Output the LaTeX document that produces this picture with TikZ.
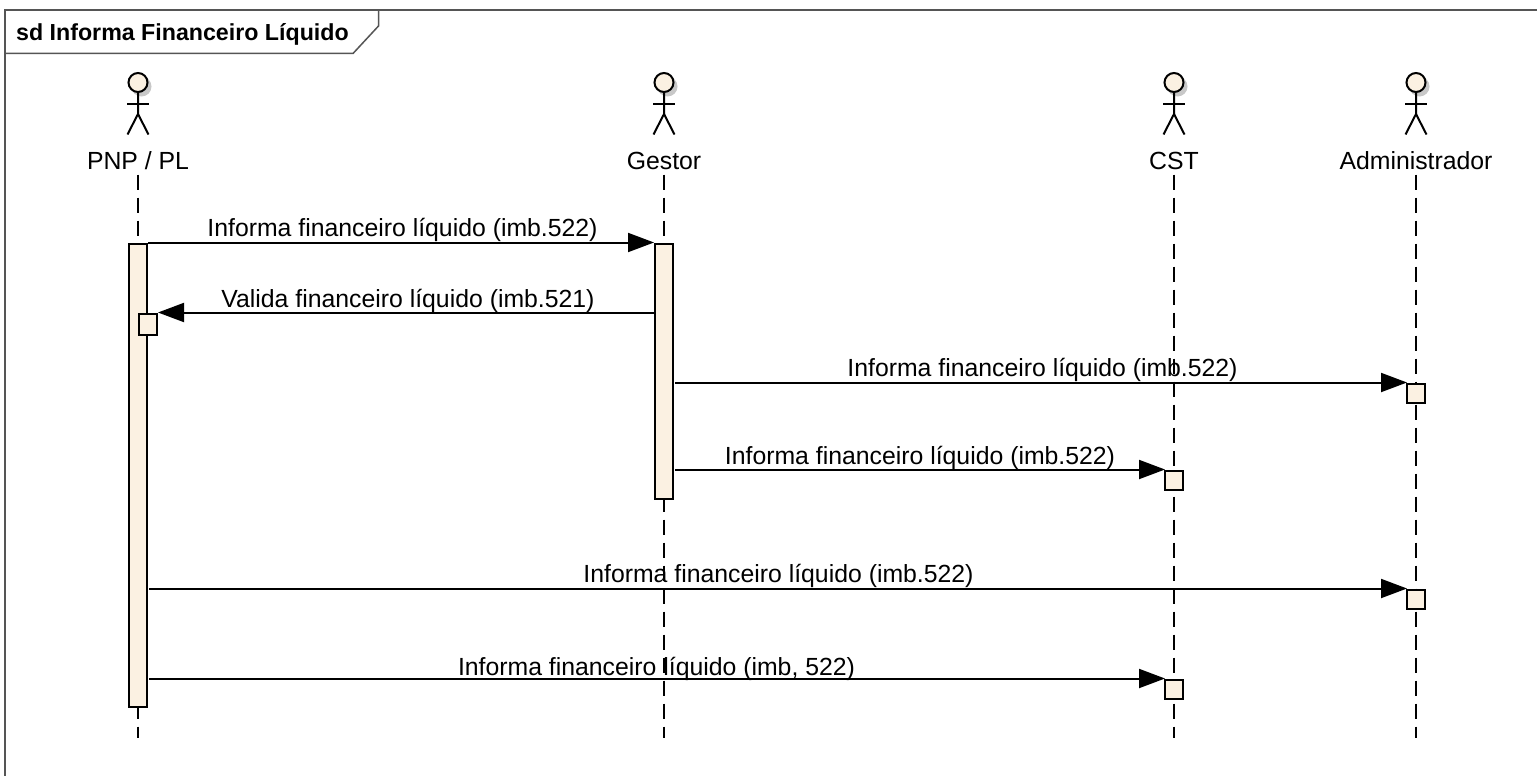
\documentclass[tikz,border=0pt]{standalone}
\usepackage{fontspec}
\setmainfont{Liberation Sans}
\usetikzlibrary{arrows.meta}
\definecolor{bb}{RGB}{251, 241, 226}
\definecolor{ff}{RGB}{85, 85, 85}
\definecolor{ss}{RGB}{200, 200, 200}
\tikzset{
  bar/.style={rectangle, minimum width=18pt, inner sep=0pt, fill=bb, draw=black, line width=2pt},
  box/.style={rectangle, minimum width=18pt, minimum height=19pt, inner sep=0pt, fill=bb, draw=black, line width=2pt},
  msg/.style={line width=2pt, -{Triangle[length=26pt, width=19pt]}},
  lifeline/.style={line width=2pt, dash pattern=on 15pt off 8pt},
  lbl/.style={inner sep=0pt, font=\fontsize{24.8}{28}\selectfont},
  actorlbl/.style={inner sep=0pt, text height=18pt, text depth=5pt, font=\fontsize{24.8}{28}\selectfont},
}
\begin{document}
\begin{tikzpicture}[x=1pt, y=1pt]
\useasboundingbox (0,0) rectangle (1537,-776);
\path [fill=white] (0,0) rectangle (1537,-776);
% frame
\draw [line width=1.5pt, color=ff] (5,-776) -- (5,-10) -- (1537,-10);
\draw [line width=1.5pt, color=ff] (5,-53.5) -- (353,-53.5) -- (378.5,-26) -- (378.5,-10);
\node (title) [inner sep=0pt, anchor=west, font=\bfseries\fontsize{23.2}{28}\selectfont] at (16,-34) {sd Informa Financeiro Líquido};
% actors
\foreach \name/\x/\txt in {pnp/138/{PNP / PL}, gestor/664/Gestor, cst/1174/CST, adm/1416/Administrador} {
  \fill [color=ss] (\x+3.5,-86.5) circle (10);
  \node (head\name) [circle, minimum size=19pt, inner sep=0pt, fill=bb, draw=black, line width=2pt] at (\x,-82.5) {};
  \draw [line width=2pt] (head\name.south) -- (\x,-114) -- (\x-10.5,-134.5);
  \draw [line width=2pt] (\x,-114) -- (\x+10.5,-134.5);
  \draw [line width=2pt] (\x-11,-103.5) -- (\x+11,-103.5);
  \node (label\name) [actorlbl] at (\x,-163) {\txt};
  \coordinate (end\name) at (\x,-738);
  \draw [lifeline] (label\name.south) -- (end\name);
}
% activations
\node (barpnp) [bar, minimum height=463pt] at (138,-475) {};
\node (bargestor) [bar, minimum height=255pt] at (664,-371) {};
\node (boxpnp) [box, minimum height=21pt] at (148,-324) {};
\node (boxadm) [box] at (1415.5,-393) {};
\node (boxcst) [box] at (1173.5,-480) {};
\node (boxadmb) [box] at (1415.5,-599) {};
\node (boxcstb) [box] at (1173.5,-689) {};
% messages
\draw [msg] (barpnp.north east) -- (bargestor.north west);
\draw [msg] (bargestor.west |- boxpnp.north) -- (boxpnp.north east);
\draw [msg, shorten <=1pt, shorten >=-1.5pt] (bargestor.east |- boxadm.north) -- (boxadm.north west);
\draw [msg, shorten <=1pt, shorten >=-1.5pt] (bargestor.east |- boxcst.north) -- (boxcst.north west);
\draw [msg, shorten <=1pt, shorten >=-1.5pt] (barpnp.east |- boxadmb.north) -- (boxadmb.north west);
\draw [msg, shorten <=1pt, shorten >=-1.5pt] (barpnp.east |- boxcstb.north) -- (boxcstb.north west);
% message labels
\node (m1) [lbl] at (402.5,-230) {Informa financeiro líquido (imb.522)};
\node (m2) [lbl] at (408,-301) {Valida financeiro líquido (imb.521)};
\node (m3) [lbl] at (1042.5,-370) {Informa financeiro líquido (imb.522)};
\node (m4) [lbl] at (920,-458) {Informa financeiro líquido (imb.522)};
\node (m5) [lbl] at (778.5,-576) {Informa financeiro líquido (imb.522)};
\node (m6) [lbl] at (656.5,-669) {Informa financeiro líquido (imb, 522)};
\end{tikzpicture}
\end{document}
